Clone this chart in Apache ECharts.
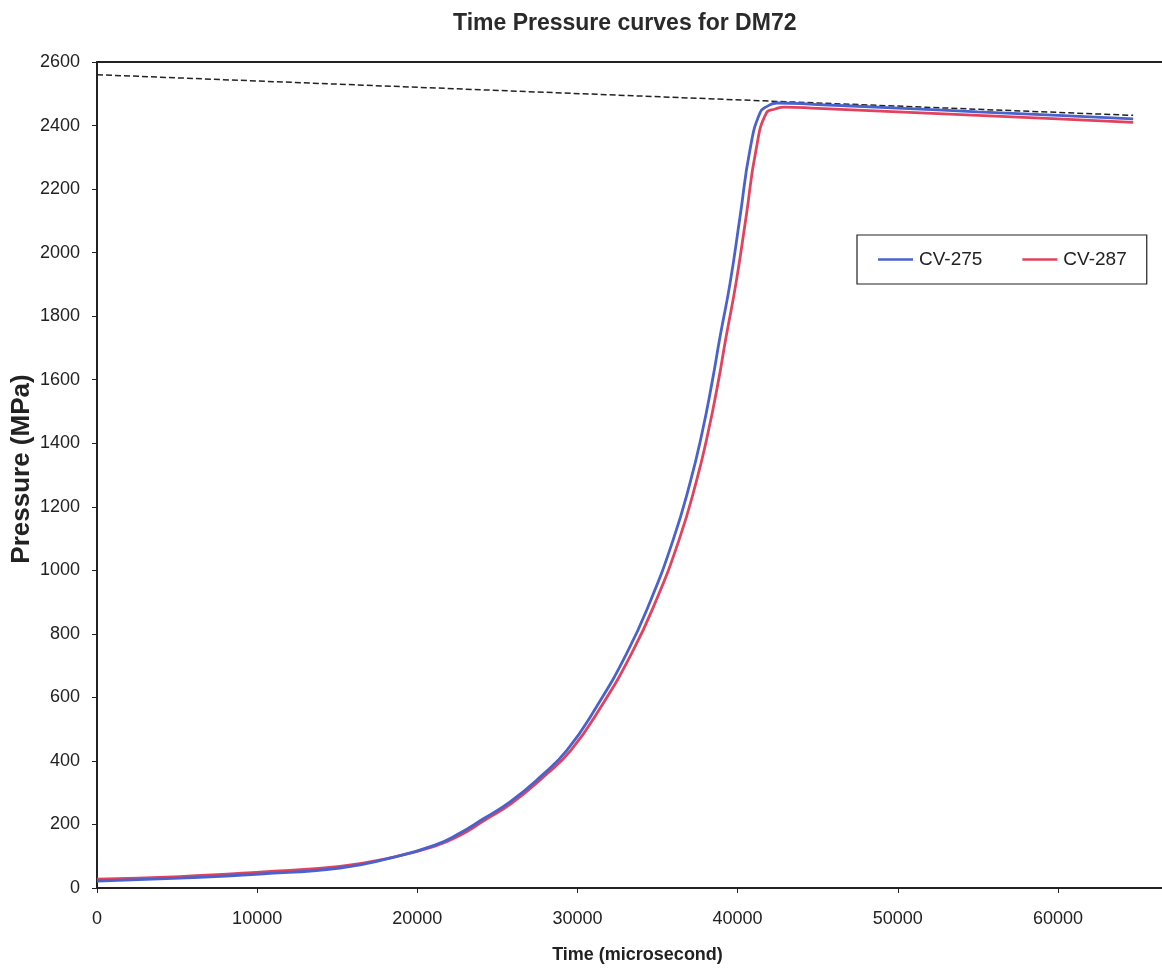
<!DOCTYPE html>
<html>
<head>
<meta charset="utf-8">
<script src="https://cdn.jsdelivr.net/npm/echarts@6/dist/echarts.min.js"></script>
<style>html,body{margin:0;padding:0;background:#fff}#c{width:1162px;height:973px}</style>
</head>
<body>
<div id="c"></div>
<script>
const titleText = 'Time Pressure curves for DM72';
const xName = 'Time (microsecond)';
const yName = 'Pressure (MPa)';
const seriesNames = ['CV-275', 'CV-287'];

const timeBlue  = [0, 5180, 10180, 15170, 18300, 21100, 22670, 24100, 25790, 27660, 29350, 31220, 33090, 34530, 35970, 37030, 37780, 38400, 38900, 39530, 40150, 40770, 41400, 41900, 42460, 45000, 50000, 55000, 60000, 64700];
const pressBlue = [22, 31, 44, 63, 94, 135, 173, 217, 271, 349, 434, 573, 740, 900, 1095, 1275, 1432, 1590, 1734, 1904, 2112, 2323, 2440, 2462, 2471, 2466, 2455, 2443, 2432, 2421];

const timeRed  = [0, 5180, 10180, 15170, 18300, 21100, 22670, 24100, 25900, 27860, 29600, 31500, 33400, 34870, 36340, 37400, 38150, 38780, 39280, 39900, 40530, 41150, 41800, 42350, 42900, 45000, 50000, 55000, 60000, 64700];
const pressRed = [28, 36, 50, 68, 95, 132, 166, 210, 267, 349, 434, 573, 740, 900, 1095, 1275, 1432, 1590, 1734, 1904, 2112, 2323, 2440, 2452, 2458, 2454, 2443, 2432, 2421, 2410];

const trendTime  = [0, 64700];
const trendPress = [2560, 2432];

const xTicks = { min: 0, max: 66500, interval: 10000 };
const yTicks = { min: 0, max: 2600, interval: 200 };

const zip = (a, b) => a.map((v, i) => [v, b[i]]);
const FONT = "'Liberation Sans', Arial, sans-serif";
const plain = v => String(v);

const chart = echarts.init(document.getElementById('c'), null, { renderer: 'canvas' });
chart.setOption({
  animation: false,
  backgroundColor: '#fff',
  title: {
    text: titleText,
    left: 448,
    top: 7,
    textStyle: { fontFamily: FONT, fontSize: 23, fontWeight: 'bold', color: '#2a2a2a' }
  },
  grid: { left: 97, top: 62, right: 0, bottom: 85, show: false, containLabel: false, outerBoundsMode: 'none' },
  legend: {
    data: seriesNames.map(n => ({ name: n, icon: 'rect' })),
    left: 857, top: 235,
    orient: 'horizontal',
    itemWidth: 35, itemHeight: 2.5, itemGap: 40,
    padding: [15, 20, 15, 21],
    borderColor: '#222', borderWidth: 1.2, borderRadius: 0,
    backgroundColor: '#fff',
    textStyle: { fontFamily: FONT, fontSize: 19, color: '#222', padding: [0, 0, 0, 1] }
  },
  xAxis: [
    {
      type: 'value',
      min: xTicks.min, max: xTicks.max, interval: xTicks.interval,
      name: xName, nameLocation: 'middle', nameGap: 58, nameMoveOverlap: false,
      nameTextStyle: { fontFamily: FONT, fontSize: 18, fontWeight: 'bold', color: '#222', padding: [0, 0, 0, 16] },
      axisLine: { show: true, onZero: false, lineStyle: { color: '#222', width: 2 } },
      axisTick: { show: true, inside: false, length: 5, lineStyle: { color: '#222', width: 1 } },
      axisLabel: { fontFamily: FONT, fontSize: 18, color: '#222', margin: 22, showMaxLabel: false, formatter: plain },
      splitLine: { show: false }
    },
    {
      type: 'value', position: 'top',
      min: xTicks.min, max: xTicks.max, interval: xTicks.interval,
      axisLine: { show: true, onZero: false, lineStyle: { color: '#222', width: 1.8 } },
      axisTick: { show: false }, axisLabel: { show: false }, splitLine: { show: false }
    }
  ],
  yAxis: {
    type: 'value',
    min: yTicks.min, max: yTicks.max, interval: yTicks.interval,
    name: yName, nameLocation: 'middle', nameGap: 62, nameRotate: 90, nameMoveOverlap: false,
    nameTextStyle: { fontFamily: FONT, fontSize: 26, fontWeight: 'bold', color: '#222', padding: [0, 0, 0, 12] },
    axisLine: { show: true, lineStyle: { color: '#222', width: 2 } },
    axisTick: { show: true, inside: false, length: 5, lineStyle: { color: '#222', width: 1 } },
    axisLabel: { fontFamily: FONT, fontSize: 18, color: '#222', margin: 17, formatter: plain },
    splitLine: { show: false }
  },
  series: [
    {
      name: 'trend', type: 'line', data: zip(trendTime, trendPress),
      showSymbol: false, silent: true, z: 1,
      lineStyle: { color: '#222', width: 1.5, type: [6, 3] }
    },
    {
      name: seriesNames[1], type: 'line', data: zip(timeRed, pressRed),
      showSymbol: false, smooth: 0.5, z: 3,
      itemStyle: { color: '#e2425e' },
      lineStyle: { color: '#e2425e', width: 2.8 }
    },
    {
      name: seriesNames[0], type: 'line', data: zip(timeBlue, pressBlue),
      showSymbol: false, smooth: 0.5, z: 4,
      itemStyle: { color: '#4a62cc' },
      lineStyle: { color: '#4a62cc', width: 2.8 }
    }
  ]
});
</script>
</body>
</html>
